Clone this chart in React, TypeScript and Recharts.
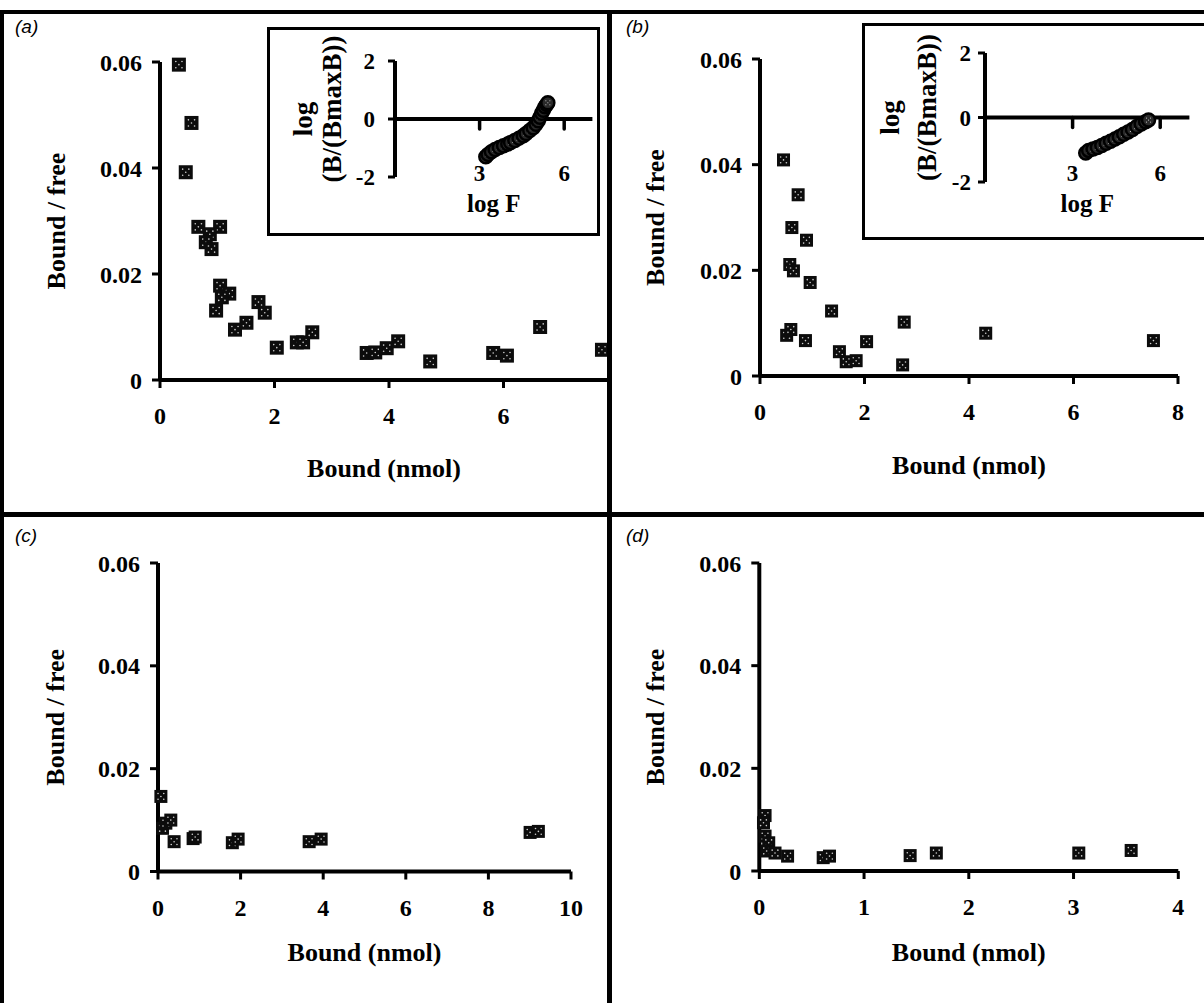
import React from "react";
import { ReferenceLine, Scatter, ScatterChart, XAxis, YAxis } from "recharts";

const SERIF = "'Liberation Serif', 'Times New Roman', Times, serif";
const SANS = "'Liberation Sans', Arial, Helvetica, sans-serif";

// panel (a) – Scatchard plot
const boundA = [0.33, 0.55, 0.45, 0.67, 1.05, 0.87, 0.8, 0.9, 1.05, 1.21, 1.08, 0.98, 1.72, 1.83, 1.51, 1.31, 2.04, 2.39, 2.5, 2.66, 3.61, 3.76, 3.96, 4.16, 4.72, 5.82, 6.06, 6.64, 7.72];
const ratioA = [0.0595, 0.0485, 0.0392, 0.0289, 0.0289, 0.0275, 0.026, 0.0247, 0.0178, 0.0163, 0.0156, 0.0131, 0.0147, 0.0127, 0.0108, 0.0095, 0.0061, 0.0071, 0.0071, 0.009, 0.0051, 0.0052, 0.006, 0.0073, 0.0035, 0.0051, 0.0046, 0.01, 0.0057];

// panel (b)
const boundB = [0.45, 0.73, 0.61, 0.89, 0.57, 0.64, 0.96, 1.37, 0.51, 0.59, 0.87, 1.52, 1.65, 1.84, 2.04, 2.76, 2.73, 4.32, 7.53];
const ratioB = [0.0409, 0.0343, 0.0281, 0.0257, 0.0211, 0.0199, 0.0177, 0.0123, 0.0077, 0.0088, 0.0067, 0.0046, 0.0027, 0.0029, 0.0065, 0.0102, 0.0021, 0.0081, 0.0067];

// panel (c)
const boundC = [0.07, 0.11, 0.19, 0.31, 0.39, 0.85, 0.9, 1.8, 1.94, 3.66, 3.95, 9.01, 9.21];
const ratioC = [0.0146, 0.0084, 0.0094, 0.01, 0.0058, 0.0064, 0.0067, 0.0056, 0.0063, 0.0058, 0.0063, 0.0076, 0.0078];

// panel (d)
const boundD = [0.055, 0.04, 0.055, 0.09, 0.07, 0.15, 0.27, 0.61, 0.67, 1.44, 1.69, 3.05, 3.55];
const ratioD = [0.0108, 0.0094, 0.0068, 0.0055, 0.0039, 0.0035, 0.0029, 0.0026, 0.0029, 0.003, 0.0035, 0.0035, 0.004];

// insets: log B/(Bmax-B) against log F
const logFA = [3.22, 3.3, 3.42, 3.55, 3.7, 3.85, 4.0, 4.1, 4.25, 4.4, 4.55, 4.65, 4.78, 4.9, 5.0, 5.08, 5.14, 5.2, 5.26, 5.32, 5.38, 5.42];
const logBA = [-1.3, -1.22, -1.13, -1.05, -0.98, -0.92, -0.86, -0.81, -0.74, -0.66, -0.58, -0.5, -0.4, -0.3, -0.18, -0.06, 0.06, 0.2, 0.3, 0.42, 0.5, 0.56];
const logFB = [3.45, 3.55, 3.7, 3.85, 4.0, 4.15, 4.3, 4.45, 4.6, 4.75, 4.9, 5.05, 5.2, 5.35, 5.5, 5.6];
const logBB = [-1.1, -1.02, -0.98, -0.93, -0.87, -0.8, -0.74, -0.67, -0.6, -0.52, -0.45, -0.37, -0.28, -0.2, -0.13, -0.08];

const yTicks = [0, 0.02, 0.04, 0.06];
const insetXTicks = [3, 6];
const insetYTicks = [-2, 0, 2];

const pts = (xs: number[], ys: number[]) => xs.map((x, i) => ({ x, y: ys[i] }));

const AXIS_LINE = { stroke: "#000", strokeWidth: 4 };
const TICK_LINE = { stroke: "#000", strokeWidth: 3 };
const TICK_FONT = { fill: "#000", fontSize: 24, fontWeight: 700, fontFamily: SERIF };
const INSET_TICK_FONT = { fill: "#000", fontSize: 23, fontWeight: 700, fontFamily: SERIF };
const DOTS = [[-1, -1], [1, -1], [0, 0], [-1, 1], [1, 1]];

function squareShape(size: number) {
  return (props: any) => {
    const { cx, cy } = props;
    if (cx == null || cy == null) return <g />;
    const h = size / 2;
    const d = size * 0.22;
    return (
      <g>
        <rect x={cx - h} y={cy - h} width={size} height={size} fill="#0c0c0c" />
        {DOTS.map(([a, b], i) => (
          <circle key={i} cx={cx + a * d} cy={cy + b * d} r={0.8} fill="#d0d0d0" />
        ))}
      </g>
    );
  };
}

const circleShape = (props: any) => {
  const { cx, cy } = props;
  if (cx == null || cy == null) return <g />;
  return (
    <g>
      <circle cx={cx} cy={cy} r={6.5} fill="#2a2a2a" stroke="#000" strokeWidth={2.5} />
      {DOTS.map(([a, b], i) => (
        <circle key={i} cx={cx + a * 2} cy={cy + b * 2} r={0.6} fill="#c8c8c8" />
      ))}
    </g>
  );
};

const titleStyle = (size: number) => ({ fontFamily: SERIF, fontWeight: 700, fontSize: size });

const xTitle = (text: string, dy: number, size: number, dx = 0) => ({
  content: (p: any) => {
    const vb = p.viewBox || {};
    return (
      <text x={vb.x + vb.width / 2 + dx} y={vb.y + dy} textAnchor="middle" dominantBaseline="central" fill="#000" style={titleStyle(size)}>
        {text}
      </text>
    );
  },
});

const yTitle = (lines: { text: string; x: number; dy: number }[], size: number) => ({
  content: (p: any) => {
    const vb = p.viewBox || {};
    const cy = vb.y + vb.height / 2;
    return (
      <g>
        {lines.map((l) => (
          <text key={l.text} x={l.x} y={cy + l.dy} transform={`rotate(-90, ${l.x}, ${cy + l.dy})`} textAnchor="middle" dominantBaseline="central" fill="#000" style={titleStyle(size)}>
            {l.text}
          </text>
        ))}
      </g>
    );
  },
});

interface PanelProps {
  data: { x: number; y: number }[];
  xMax: number;
  xTicks: number[];
  width: number;
  height: number;
  margin: { top: number; right: number; bottom: number; left: number };
  mark: number;
  yTitleX: number;
  xTitleDy: number;
  xTitleDx?: number;
}

function Panel({ data, xMax, xTicks, width, height, margin, mark, yTitleX, xTitleDy, xTitleDx = 0 }: PanelProps) {
  return (
    <ScatterChart width={width} height={height} margin={margin}>
      <XAxis
        type="number"
        dataKey="x"
        domain={[0, xMax]}
        ticks={xTicks}
        height={40}
        axisLine={AXIS_LINE}
        tickLine={TICK_LINE}
        tickSize={8}
        tickMargin={19}
        tick={TICK_FONT}
        label={xTitle("Bound (nmol)", xTitleDy, 26, xTitleDx)}
      />
      <YAxis
        type="number"
        dataKey="y"
        domain={[0, 0.06]}
        ticks={yTicks}
        width={60}
        axisLine={AXIS_LINE}
        tickLine={TICK_LINE}
        tickSize={8}
        tickMargin={10}
        tick={TICK_FONT}
        tickFormatter={(v: number) => (v === 0 ? "0" : v.toFixed(2))}
        label={yTitle([{ text: "Bound / free", x: yTitleX, dy: 0 }], 26)}
      />
      <Scatter data={data} shape={squareShape(mark)} isAnimationActive={false} />
    </ScatterChart>
  );
}

interface InsetProps {
  data: { x: number; y: number }[];
  width: number;
  height: number;
  margin: { top: number; right: number; bottom: number; left: number };
  tickDy: number;
  titleDy: number;
  yTickMargin: number;
  logX: number;
  bX: number;
}

const INSET_X_HEIGHT = 30;

function Inset({ data, width, height, margin, tickDy, titleDy, yTickMargin, logX, bX }: InsetProps) {
  // the y range is symmetric (-2..2), so the zero line sits half a plot above the bottom axis
  const halfPlot = (height - margin.top - margin.bottom - INSET_X_HEIGHT) / 2;
  const insetTick = (p: any) => (
    <g>
      <line x1={p.x} y1={p.y - halfPlot} x2={p.x} y2={p.y - halfPlot + 10} stroke="#000" strokeWidth={3.5} strokeLinecap="round" />
      <text x={p.x} y={p.y + tickDy} textAnchor="middle" dominantBaseline="central" {...INSET_TICK_FONT}>
        {p.payload.value}
      </text>
    </g>
  );
  return (
    <ScatterChart width={width} height={height} margin={margin}>
      <XAxis
        type="number"
        dataKey="x"
        domain={[0, 7]}
        ticks={insetXTicks}
        height={INSET_X_HEIGHT}
        axisLine={false}
        tickLine={false}
        tickSize={0}
        tickMargin={0}
        tick={insetTick}
        label={xTitle("log F", titleDy, 25)}
      />
      <YAxis
        type="number"
        dataKey="y"
        domain={[-2, 2]}
        ticks={insetYTicks}
        width={45}
        axisLine={AXIS_LINE}
        tickLine={TICK_LINE}
        tickSize={7}
        tickMargin={yTickMargin}
        tick={INSET_TICK_FONT}
        label={yTitle(
          [
            { text: "log", x: logX, dy: 0 },
            { text: "(B/(BmaxB))", x: bX, dy: -10 },
          ],
          27
        )}
      />
      <ReferenceLine y={0} stroke="#000" strokeWidth={4} />
      <Scatter data={data} shape={circleShape} isAnimationActive={false} />
    </ScatterChart>
  );
}

const abs = (left: number, top: number, width: number, height: number): React.CSSProperties => ({
  position: "absolute",
  left,
  top,
  width,
  height,
  overflow: "hidden",
});

const bar = (left: number, top: number, width: number, height: number): React.CSSProperties => ({
  position: "absolute",
  left,
  top,
  width,
  height,
  background: "#000",
});

const letterStyle = (left: number, top: number): React.CSSProperties => ({
  position: "absolute",
  left,
  top,
  fontFamily: SANS,
  fontStyle: "italic",
  fontSize: 19,
  color: "#000",
});

const boxStyle = (left: number, top: number, width: number, height: number): React.CSSProperties => ({
  position: "absolute",
  left,
  top,
  width,
  height,
  boxSizing: "border-box",
  border: "3px solid #000",
  background: "#fff",
});

export default function App() {
  return (
    <div style={{ position: "absolute", left: 0, top: 0, width: 1204, height: 1003, background: "#fff", overflow: "hidden" }}>
      <div style={abs(0, 0, 607, 512)}>
        <Panel
          data={pts(boundA, ratioA)}
          xMax={8}
          xTicks={[0, 2, 4, 6]}
          width={640}
          height={512}
          margin={{ top: 62, right: 22, bottom: 92, left: 100 }}
          mark={14}
          yTitleX={56}
          xTitleDy={88}
          xTitleDx={-5}
        />
        <div style={boxStyle(267, 27, 333, 209)}>
          <Inset
            data={pts(logFA, logBA)}
            width={327}
            height={203}
            margin={{ top: 31, right: 4.6, bottom: 26, left: 80 }}
            tickDy={-4}
            titleDy={26}
            yTickMargin={13}
            logX={33}
            bX={62}
          />
        </div>
        <div style={letterStyle(15, 16)}>(a)</div>
      </div>

      <div style={abs(612, 0, 592, 512)}>
        <Panel
          data={pts(boundB, ratioB)}
          xMax={8}
          xTicks={[0, 2, 4, 6, 8]}
          width={592}
          height={512}
          margin={{ top: 59, right: 26, bottom: 96, left: 88 }}
          mark={13}
          yTitleX={43}
          xTitleDy={89}
        />
        <div style={boxStyle(250, 23, 360, 217)}>
          <Inset
            data={pts(logFB, logBB)}
            width={345}
            height={211}
            margin={{ top: 27, right: 20.6, bottom: 25, left: 75 }}
            tickDy={-9}
            titleDy={21}
            yTickMargin={7}
            logX={25}
            bX={62}
          />
        </div>
        <div style={letterStyle(14, 16)}>(b)</div>
      </div>

      <div style={abs(0, 517, 607, 486)}>
        <Panel
          data={pts(boundC, ratioC)}
          xMax={10}
          xTicks={[0, 2, 4, 6, 8, 10]}
          width={607}
          height={486}
          margin={{ top: 46, right: 36, bottom: 91.5, left: 98 }}
          mark={13}
          yTitleX={55}
          xTitleDy={81}
        />
        <div style={letterStyle(15, 8)}>(c)</div>
      </div>

      <div style={abs(612, 517, 592, 486)}>
        <Panel
          data={pts(boundD, ratioD)}
          xMax={4}
          xTicks={[0, 1, 2, 3, 4]}
          width={592}
          height={486}
          margin={{ top: 46, right: 25.7, bottom: 92, left: 87.3 }}
          mark={13}
          yTitleX={43}
          xTitleDy={81}
        />
        <div style={letterStyle(14, 8)}>(d)</div>
      </div>

      <div style={bar(0, 10, 1204, 4)} />
      <div style={bar(0, 10, 4, 993)} />
      <div style={bar(607, 10, 5, 993)} />
      <div style={bar(0, 512, 1204, 5)} />
    </div>
  );
}
